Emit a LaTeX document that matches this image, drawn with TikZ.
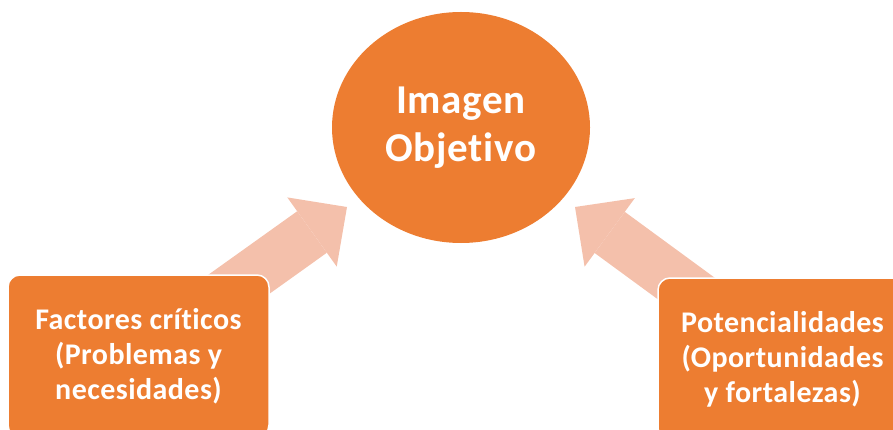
\documentclass[tikz,border=0pt]{standalone}
\usepackage{fontspec}
\setmainfont{Carlito}[Ligatures=NoCommon]
\newfontfamily\letrac{Carlito}[Ligatures=NoCommon, LetterSpace=1.8]
\newfontfamily\letrab{Carlito}[Ligatures=NoCommon, LetterSpace=1.5]
\usetikzlibrary{shapes.geometric, arrows.meta, backgrounds, positioning}
\definecolor{naranja}{HTML}{ED7D31}
\definecolor{salmon}{HTML}{F4C0AB}

\tikzset{
  caja/.style={rectangle, rounded corners=12pt, fill=naranja, draw=white, line width=1.5pt,
    text=white, font=\letrab\bfseries\fontsize{30}{35}\selectfont, align=center, inner sep=0pt},
  flecha/.style={draw=salmon, line width=51pt,
    -{Triangle[width=85pt, length=43pt, line width=0pt]}},
}

\begin{document}
\begin{tikzpicture}[x=1pt, y=-1pt]
  \useasboundingbox (0,0) rectangle (893,430);
  % circulo central
  \node[ellipse, fill=naranja, minimum width=258pt, minimum height=231pt, inner sep=0pt,
    text=white, font=\letrac\bfseries\fontsize{41}{48}\selectfont, align=center]
    (img) at (461,127.5) {Imagen\\Objetivo};
  % cajas
  \node[caja, minimum width=261pt, minimum height=162pt] (fac) at (138.5,356)
    {Factores críticos\\(Problemas y\\necesidades)};
  \node[caja, minimum width=249pt, minimum height=162pt] (pot) at (782.5,359)
    {Potencialidades\\(Oportunidades\\y fortalezas)};
  % flechas
  \coordinate (puntaI) at (347,207);
  \coordinate (puntaD) at (575,207);
  \begin{scope}[on background layer]
    \draw[flecha] (fac.center) -- (puntaI);
    \draw[flecha] (pot.center) -- (puntaD);
  \end{scope}
\end{tikzpicture}
\end{document}
